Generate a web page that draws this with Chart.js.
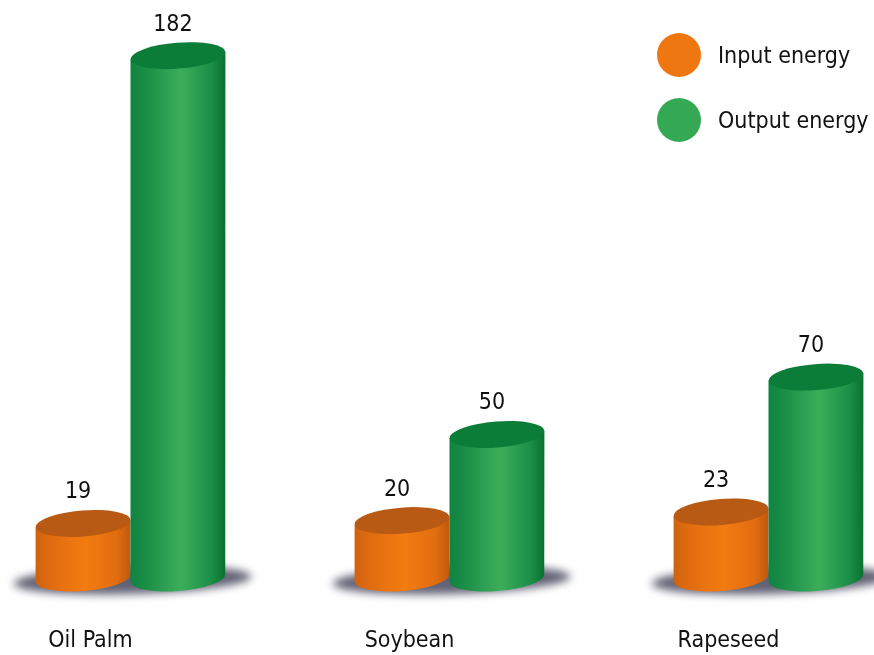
<!DOCTYPE html>
<html>
<head>
<meta charset="utf-8">
<title>Input and output energy</title>
<script src="https://cdn.jsdelivr.net/npm/chart.js@4"></script>
<style>
    html, body { margin: 0; padding: 0; background: #fff; overflow: hidden; width: 874px; height: 655px; }
    /* three slots of 319px do not fit the window, the outer edges stick out */
    #energyChart { position: absolute; left: -29.5px; top: 0; }
    .legend-item { position: absolute; left: 657px; height: 44px; white-space: nowrap;
        font: 23px/44px "DejaVu Sans Condensed", "DejaVu Sans", sans-serif; color: #111; }
    .legend-item i { display: inline-block; width: 44px; height: 44px; border-radius: 50%; margin-right: 17px; vertical-align: top; }
</style>
</head>
<body>
<canvas id="energyChart" width="957" height="655"></canvas>
<script>
const categories = ['Oil Palm', 'Soybean', 'Rapeseed'];
const seriesNames = ['Input energy', 'Output energy'];
const inputEnergy = [19, 20, 23];
const outputEnergy = [182, 50, 70];

const FONT = '"DejaVu Sans Condensed", "DejaVu Sans", sans-serif';
const ELLIPSE_RY = 13;
const TILT = -4.5 * Math.PI / 180;

const palette = [
    { flat: '#ee7711', edgeL: '#cf610f', side: '#e26d10', mid: '#f27c10', edgeR: '#bf590d', top: '#b85a14' },
    { flat: '#35a853', edgeL: '#0f8340', side: '#1c8f48', mid: '#3cae5a', edgeR: '#08722f', top: '#0c7d39' }
];

function drawShadow(ctx, left, right, base) {
    ctx.save();
    ctx.filter = 'blur(4px)';
    ctx.fillStyle = '#626276';
    ctx.beginPath();
    ctx.ellipse((left + right) / 2 + 2, base + 2, (right - left) / 2 + 24, 14, -0.03, 0, Math.PI * 2);
    ctx.fill();
    ctx.restore();
}

function drawCylinder(ctx, bar, colors) {
    const left = bar.x - bar.width / 2;
    const right = bar.x + bar.width / 2;
    const rx = bar.width / 2;
    const dy = Math.tan(-TILT) * rx;

    const grad = ctx.createLinearGradient(left, 0, right, 0);
    grad.addColorStop(0, colors.edgeL);
    grad.addColorStop(0.18, colors.side);
    grad.addColorStop(0.53, colors.mid);
    grad.addColorStop(0.85, colors.side);
    grad.addColorStop(1, colors.edgeR);

    // body: sides plus the lower half of the bottom ellipse
    ctx.fillStyle = grad;
    ctx.beginPath();
    ctx.moveTo(left, bar.y + dy);
    ctx.lineTo(left, bar.base + dy);
    ctx.ellipse(bar.x, bar.base, rx, ELLIPSE_RY, TILT, Math.PI, 0, true);
    ctx.lineTo(right, bar.y - dy);
    ctx.closePath();
    ctx.fill();

    // lid
    ctx.beginPath();
    ctx.ellipse(bar.x, bar.y, rx, ELLIPSE_RY, TILT, 0, Math.PI * 2);
    ctx.fillStyle = colors.top;
    ctx.fill();
}

const cylinderPlugin = {
    id: 'cylinders',
    beforeDatasetsDraw(chart) {
        const ctx = chart.ctx;
        const input = chart.getDatasetMeta(0).data;
        const output = chart.getDatasetMeta(1).data;

        input.forEach((bar, i) => {
            const other = output[i];
            drawShadow(ctx, bar.x - bar.width / 2, other.x + other.width / 2, bar.base);
        });
        [input, output].forEach((bars, d) => {
            bars.forEach(bar => drawCylinder(ctx, bar, palette[d]));
        });

        // value labels above the lids
        ctx.font = '23px ' + FONT;
        ctx.fillStyle = '#111';
        ctx.textAlign = 'center';
        ctx.textBaseline = 'middle';
        [input, output].forEach((bars, d) => {
            const values = chart.data.datasets[d].data;
            bars.forEach((bar, i) => ctx.fillText(values[i], bar.x - 5, bar.y - 31));
        });
        return false;
    }
};

new Chart(document.getElementById('energyChart'), {
    type: 'bar',
    data: {
        labels: categories,
        datasets: [
            { label: seriesNames[0], data: inputEnergy, backgroundColor: palette[0].flat },
            { label: seriesNames[1], data: outputEnergy, backgroundColor: palette[1].flat }
        ]
    },
    options: {
        responsive: false,
        animation: false,
        devicePixelRatio: 1,
        layout: { padding: { top: 4, left: 0, right: 0, bottom: 0 } },
        datasets: { bar: { categoryPercentage: 0.595, barPercentage: 1 } },
        plugins: {
            legend: { display: false },
            tooltip: { enabled: false }
        },
        scales: {
            y: { display: false, min: 0, max: 200 },
            x: {
                grid: { display: false, drawTicks: false },
                border: { display: false },
                afterFit(scale) { scale.height = 77; },
                ticks: {
                    color: '#111',
                    padding: 49,
                    labelOffset: -40,
                    maxRotation: 0,
                    autoSkip: false,
                    font: { family: FONT, size: 23 }
                }
            }
        }
    },
    plugins: [cylinderPlugin]
});

// legend
seriesNames.forEach((name, i) => {
    const item = document.createElement('div');
    item.className = 'legend-item';
    item.style.top = (33 + i * 65) + 'px';
    item.innerHTML = '<i style="background:' + palette[i].flat + '"></i>' + name;
    document.body.appendChild(item);
});
</script>
</body>
</html>
